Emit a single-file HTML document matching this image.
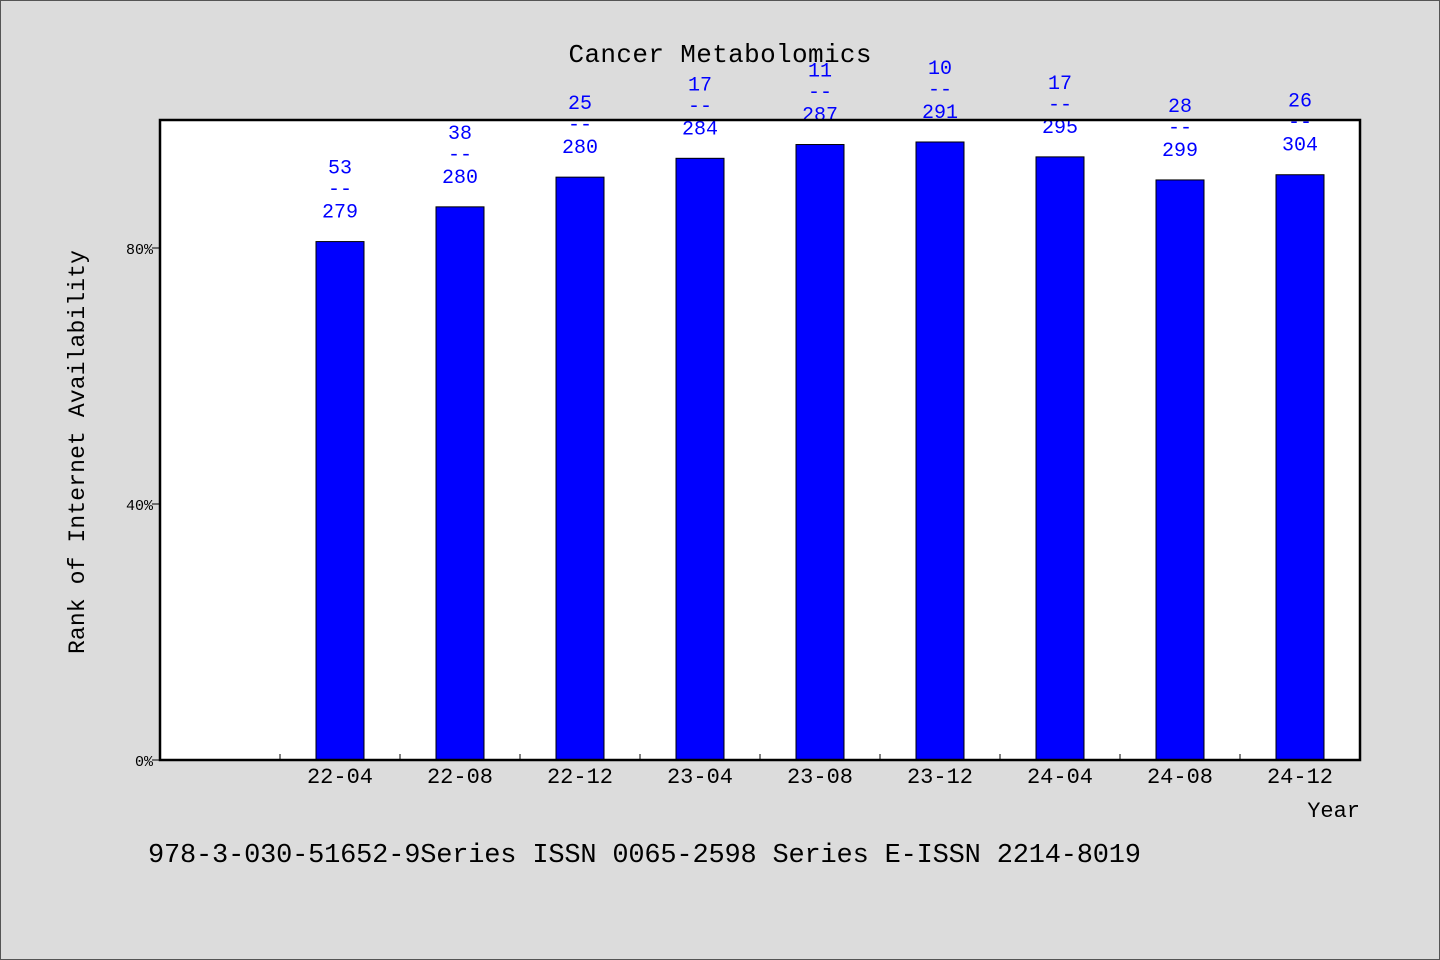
<!DOCTYPE html>
<html><head><meta charset="utf-8"><style>
body{margin:0;background:#dcdcdc;}
svg{display:block;font-family:"Liberation Mono",monospace;}
</style></head><body>
<svg id="c" width="1440" height="960">
<rect x="0.5" y="0.5" width="1439" height="959" fill="#dcdcdc" stroke="#555"/>
<rect x="160" y="120" width="1200" height="640" fill="#fff"/>
<text x="720" y="62" font-size="26" text-anchor="middle" textLength="303">Cancer Metabolomics</text>
<g id="bars"></g>
<g id="labels"></g>
<rect x="160" y="120" width="1200" height="640" fill="none" stroke="#000" stroke-width="2.5"/>
<g id="axes"></g>
<text transform="translate(84,452) rotate(-90)" font-size="23" text-anchor="middle" textLength="404">Rank of Internet Availability</text>
<text x="1360" y="817" font-size="22" text-anchor="end">Year</text>
<text x="148" y="862" font-size="27" textLength="993">978-3-030-51652-9Series ISSN 0065-2598 Series E-ISSN 2214-8019</text>
</svg>
<script>
const categories=["22-04","22-08","22-12","23-04","23-08","23-12","24-04","24-08","24-12"];
const ranks=[53,38,25,17,11,10,17,28,26];
const totals=[279,280,280,284,287,291,295,299,304];
const yTicks=[0,40,80];
const NS="http://www.w3.org/2000/svg";
const x0=160,band=120,y0=760,pxPer=6.4;
const xc=i=>x0+band*(i+1)+band/2;
const y=v=>y0-v*pxPer;
function mk(t,a,p){const e=document.createElementNS(NS,t);for(const k in a)e.setAttribute(k,a[k]);p.appendChild(e);return e;}
const bars=document.getElementById('bars'),labels=document.getElementById('labels'),axes=document.getElementById('axes');
categories.forEach((c,i)=>{
 const v=(1-ranks[i]/totals[i])*100;
 const r=mk('rect',{x:xc(i)-24,y:y(v),width:48,height:y0-y(v),fill:'#0000ff',stroke:'#000','stroke-width':1},bars);
 
 
 const top=y(v);
 [[ranks[i],-68],['--',-47],[totals[i],-24]].forEach(([t,dy],k)=>{
  const e=mk('text',{x:xc(i),y:top+dy,'font-size':20,fill:'#0000ff','text-anchor':'middle'},labels);
  e.textContent=t;
  
  
 });
 const l=mk('text',{x:xc(i),y:783,'font-size':22,'text-anchor':'middle'},axes);
 l.textContent=c;
 
 
});
for(let i=1;i<10;i++){
 const t=mk('line',{x1:x0+band*i,x2:x0+band*i,y1:y0,y2:y0-6,stroke:'#000'},axes);
 
 
}
yTicks.forEach(v=>{
 const t=mk('line',{x1:152,x2:160,y1:y(v),y2:y(v),stroke:'#000'},axes);
 
 
 const l=mk('text',{x:153,y:y(v)+6,'font-size':15,'text-anchor':'end'},axes);
 l.textContent=v+'%';
 
 
});
</script>
</body></html>
